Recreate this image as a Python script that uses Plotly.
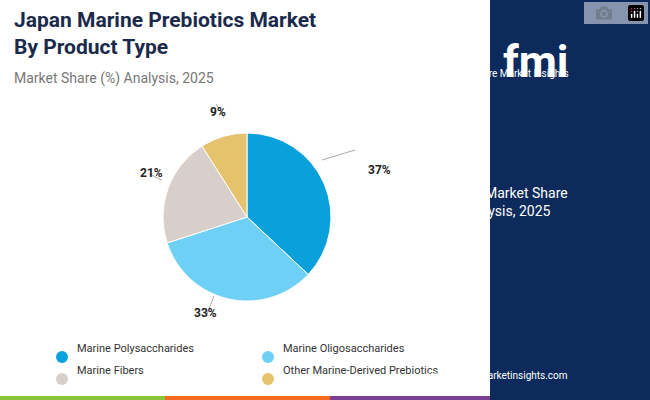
import plotly.graph_objects as go

labels = ["Marine Polysaccharides", "Marine Oligosaccharides", "Marine Fibers", "Other Marine-Derived Prebiotics"]
values = [37, 33, 21, 9]
colors = ["#0aa0dc", "#6fd0f5", "#d9cfca", "#e5c26b"]

W, H = 650, 400
def px(x): return x / W
def py(y): return 1 - y / H

fig = go.Figure(go.Pie(labels=labels, values=values, sort=False, direction="clockwise",
                       rotation=0, marker=dict(colors=colors, line=dict(color="white", width=1)),
                       textinfo="none", hoverinfo="label+percent", showlegend=False,
                       domain=dict(x=[px(163), px(331)], y=[py(301), py(133)])))

shapes = [dict(type="rect", xref="paper", yref="paper", x0=px(490), x1=1, y0=0, y1=1,
               fillcolor="#0c2a5b", line=dict(width=0), layer="below")]
for x0, x1, c in [(0, 165, "#8bc53f"), (165, 330, "#f26b21"), (330, 490, "#7b3f98"), (490, 650, "#0c2a5b")]:
    shapes.append(dict(type="rect", xref="paper", yref="paper", x0=px(x0), x1=px(x1), y0=0, y1=py(396),
                       fillcolor=c, line=dict(width=0)))
for (x0, y0, x1, y1) in [(322, 160, 355, 150), (214, 296, 207, 314), (162, 180, 149, 174), (224, 118, 216, 104)]:
    shapes.append(dict(type="line", xref="paper", yref="paper", x0=px(x0), y0=py(y0), x1=px(x1), y1=py(y1),
                       line=dict(color="#aaaaaa", width=1)))

ann = []
for t, x, y in [("37%", 379, 170), ("33%", 192, 322), ("21%", 138, 173), ("9%", 218, 103)]:
    ann.append(dict(text=f"<b>{t}</b>", x=px(x), y=py(y), xref="paper", yref="paper", showarrow=False,
                    font=dict(size=12, color="#222222", family="Roboto")))
for i, (lab, col) in enumerate(zip(labels, colors)):
    cx = 62 if i % 2 == 0 else 268
    cy = 357 if i < 2 else 379
    shapes.append(dict(type="circle", xref="paper", yref="paper", x0=px(cx - 6), x1=px(cx + 6),
                       y0=py(cy + 6), y1=py(cy - 6), fillcolor=col, line=dict(width=0)))
    ann.append(dict(text=lab, x=px(cx + 13), y=py(cy), xref="paper", yref="paper", showarrow=False,
                    xanchor="left", font=dict(size=11, color="#333333", family="Roboto")))
ann += [
    dict(text="<b>Japan Marine Prebiotics Market<br>By Product Type</b>", x=px(12), y=py(6), xref="paper", yref="paper",
         showarrow=False, xanchor="left", yanchor="top", align="left",
         font=dict(size=21, color="#1b2a4a", family="Roboto")),
    dict(text="Market Share (%) Analysis, 2025", x=px(12), y=py(68), xref="paper", yref="paper",
         showarrow=False, xanchor="left", font=dict(size=14, color="#777777", family="Roboto")),
    dict(text="Japan Market Share<br>Analysis, 2025", x=px(570), y=py(202), xref="paper", yref="paper",
         showarrow=False, font=dict(size=14, color="white", family="Roboto")),
    dict(text="<b>fmi</b>", x=px(571), y=py(34), xref="paper", yref="paper", showarrow=False,
         font=dict(size=44, color="white", family="Roboto")),
    dict(text="Future Market Insights", x=px(571), y=py(66), xref="paper", yref="paper", showarrow=False,
         font=dict(size=10, color="white", family="Roboto")),
    dict(text="www.futuremarketinsights.com", x=px(570), y=py(383), xref="paper", yref="paper", showarrow=False,
         font=dict(size=10, color="white", family="Roboto")),
]

fig.update_layout(width=W, height=H, margin=dict(l=0, r=0, t=0, b=0), paper_bgcolor="white",
                  shapes=shapes, annotations=ann)
fig.write_html("out.html", post_script="document.body.style.margin='0';")
